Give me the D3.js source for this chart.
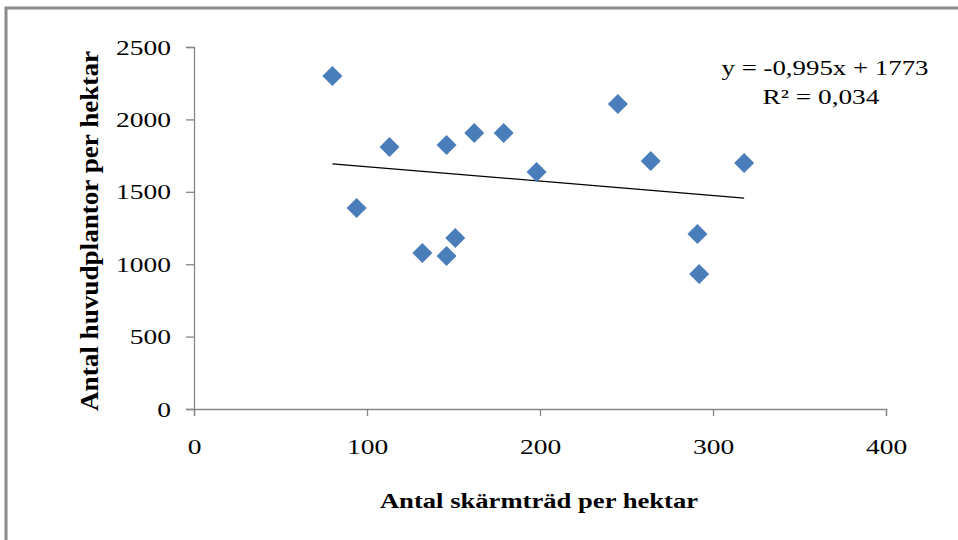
<!DOCTYPE html>
<html lang="sv">
<head>
<meta charset="UTF-8">
<title>Skärmträd och huvudplantor</title>
<script src="https://d3js.org/d3.v7.min.js"></script>
<style>
    body { margin: 0; background: #fff; }
    svg { display: block; }
    text { font-family: "Liberation Serif", "Times New Roman", serif; fill: #000; }
    .axis path, .axis line { stroke: #868686; stroke-width: 1.3px; }
    .axis text { font-size: 22px; }
    .ttl { font-size: 22px; font-weight: bold; }
    .eq { font-size: 22px; }
</style>
</head>
<body>
<svg width="958" height="540"></svg>
<script>
// skärmträd per hektar (x) och huvudplantor per hektar (y)
const skarmtrad = [80, 94, 113, 132, 146, 146, 151, 162, 179, 198, 245, 264, 291, 292, 318];
const huvudplantor = [2300, 1388, 1809, 1077, 1823, 1057, 1181, 1906, 1906, 1637, 2106, 1713, 1208, 932, 1699];
const xTicks = [0, 100, 200, 300, 400];
const yTicks = [0, 500, 1000, 1500, 2000, 2500];
const slope = -0.995, intercept = 1773, r2 = 0.034;

const svg = d3.select("svg");

// texten i originalet är lite utdragen i bredd
function stretch(sel, k) {
    sel.each(function () {
        const w = this.getComputedTextLength();
        d3.select(this).attr("textLength", w * k).attr("lengthAdjust", "spacingAndGlyphs");
    });
}

// ram
svg.append("path")
    .attr("d", "M6,540 V8 H958")
    .attr("fill", "none")
    .attr("stroke", "#8a8a8a")
    .attr("stroke-width", 3);

const x = d3.scaleLinear().domain([0, 400]).range([194, 886]);
const y = d3.scaleLinear().domain([0, 2500]).range([409, 47]);

const fmt = d => String(d);

const gx = svg.append("g")
    .attr("class", "axis")
    .attr("transform", "translate(0,409)")
    .call(d3.axisBottom(x).tickValues(xTicks).tickFormat(fmt).tickSizeOuter(0).tickSize(7).tickPadding(22));

const gy = svg.append("g")
    .attr("class", "axis")
    .attr("transform", "translate(194,0)")
    .call(d3.axisLeft(y).tickValues(yTicks).tickFormat(fmt).tickSizeOuter(0).tickSize(8).tickPadding(15));

svg.selectAll(".axis").attr("font-family", null).attr("font-size", null);
stretch(gx.selectAll("text"), 1.25);
stretch(gy.selectAll("text"), 1.25);

// trendlinje
const xr = d3.extent(skarmtrad);
svg.append("line")
    .attr("x1", x(xr[0])).attr("y1", y(slope * xr[0] + intercept))
    .attr("x2", x(xr[1])).attr("y2", y(slope * xr[1] + intercept))
    .attr("stroke", "#000")
    .attr("stroke-width", 1.3);

// punkter
const diamond = d3.symbol().type(d3.symbolSquare).size(200);
svg.append("g")
    .selectAll("path")
    .data(d3.zip(skarmtrad, huvudplantor))
    .join("path")
    .attr("d", diamond)
    .attr("transform", d => `translate(${x(d[0])},${y(d[1])}) rotate(45)`)
    .attr("fill", "#4a7ebb");

// ekvation
const nf = v => String(v).replace(".", ",");
svg.append("text").attr("class", "eq")
    .attr("x", 825).attr("y", 75).attr("text-anchor", "middle")
    .text(`y = ${nf(slope)}x + ${intercept}`)
    .call(stretch, 1.22);
svg.append("text").attr("class", "eq")
    .attr("x", 821).attr("y", 104).attr("text-anchor", "middle")
    .text(`R² = ${nf(r2)}`)
    .call(stretch, 1.24);

// axeltitlar
svg.append("text").attr("class", "ttl")
    .attr("x", 539).attr("y", 508).attr("text-anchor", "middle")
    .text("Antal skärmträd per hektar")
    .call(stretch, 1.21);
svg.append("text").attr("class", "ttl")
    .attr("transform", "translate(98,231) rotate(-90)")
    .attr("text-anchor", "middle")
    .style("font-size", "25px")
    .text("Antal huvudplantor per hektar")
    .call(stretch, 1.085);
</script>
</body>
</html>
